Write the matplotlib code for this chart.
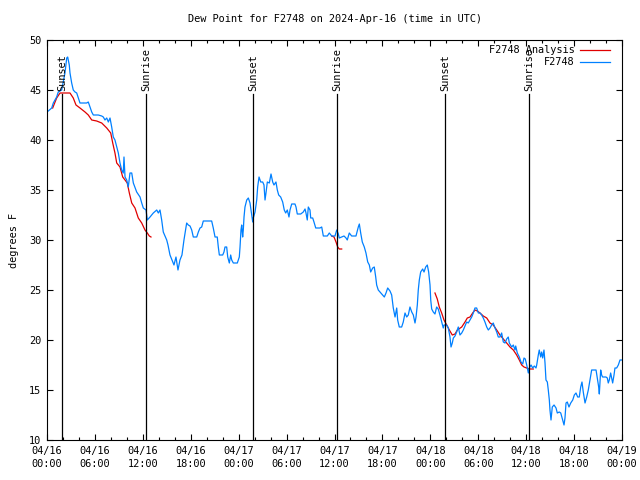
import matplotlib
matplotlib.use("Agg")
import matplotlib.pyplot as plt
from matplotlib.ticker import MultipleLocator

plt.rcParams["font.family"] = ["DejaVu Sans Mono"]

# ---------------- data (hours since 2024-04-16 00:00 UTC, degrees F) ----------
obs_t = [0.16, 0.59, 0.79, 1.21, 1.41, 1.84, 2.25, 2.47, 2.59, 2.79, 2.88, 3.09,
         3.29, 3.51, 3.72, 3.92, 4.13, 4.55, 4.97, 5.17, 5.38, 5.60, 5.80, 6.42,
         6.85, 7.05, 7.26, 7.48, 7.68, 7.89, 8.10, 8.30, 8.51, 8.73, 8.93, 9.14,
         9.35, 9.55, 9.64, 9.77, 9.98, 10.18, 10.39, 10.61, 10.81, 11.23, 11.65,
         11.86, 12.06, 12.40, 12.56, 12.90, 13.31, 13.74, 13.94, 14.15, 14.36,
         14.56, 14.99, 15.15, 15.40, 15.65, 15.90, 16.15, 16.40, 16.65, 16.90,
         17.15, 17.49, 17.69, 17.91, 18.12, 18.32, 18.75, 18.95, 19.16, 19.37,
         19.57, 20.41, 20.62, 20.82, 21.04, 21.32, 21.45, 21.58, 22.00, 22.16,
         22.29, 22.50, 22.63, 22.83, 23.00, 23.13, 23.33, 23.83, 24.08, 24.17,
         24.29, 24.38, 24.50, 24.58, 24.67, 24.79, 25.01, 25.21, 25.42, 25.63,
         25.76, 25.83, 26.05, 26.26, 26.38, 26.55, 26.76, 27.01, 27.17, 27.30,
         27.42, 27.59, 27.84, 28.05, 28.26, 28.42, 28.67, 28.84, 29.01, 29.26,
         29.51, 29.71, 29.89, 30.09, 30.30, 30.43, 30.64, 31.05, 31.18, 31.34,
         31.77, 32.09, 32.31, 32.43, 32.59, 32.72, 32.93, 33.02, 33.27, 33.43,
         33.65, 34.18, 34.40, 34.60, 35.10, 35.35, 35.65, 36.06, 36.28, 36.48,
         36.60, 36.90, 37.19, 37.44, 37.60, 37.85, 38.15, 38.69, 38.98, 39.11,
         39.28, 39.48, 39.73, 39.94, 40.16, 40.36, 40.53, 40.78, 40.98, 41.16,
         41.28, 41.48, 41.70, 42.03, 42.24, 42.45, 42.66, 42.95, 43.16, 43.36,
         43.58, 43.79, 43.91, 44.11, 44.41, 44.61, 44.83, 45.04, 45.24, 45.45,
         45.67, 45.87, 46.08, 46.21, 46.37, 46.49, 46.62, 46.79, 47.04, 47.21,
         47.42, 47.62, 47.79, 47.96, 48.05, 48.17, 48.37, 48.58, 48.79, 48.99,
         49.20, 49.42, 49.62, 49.71, 50.05, 50.25, 50.46, 50.59, 50.75, 50.88,
         51.09, 51.30, 51.50, 51.71, 51.93, 52.13, 52.34, 52.55, 52.75, 52.97,
         53.18, 53.38, 53.59, 53.80, 54.01, 54.22, 54.43, 54.63, 54.84, 55.06,
         55.26, 55.47, 55.68, 55.88, 56.10, 56.31, 56.51, 56.72, 56.93, 57.14,
         57.35, 57.56, 57.76, 57.89, 58.19, 58.39, 58.60, 58.69, 58.89, 59.14,
         59.35, 59.57, 59.73, 59.89, 60.07, 60.27, 60.39, 60.61, 60.82, 61.02,
         61.23, 61.32, 61.52, 61.64, 61.82, 61.94, 62.07, 62.23, 62.36, 62.48,
         62.65, 62.77, 62.90, 62.98, 63.11, 63.27, 63.49, 63.74, 63.90, 64.15,
         64.33, 64.57, 64.74, 64.86, 64.99, 65.15, 65.36, 65.58, 65.83, 66.03,
         66.24, 66.45, 66.65, 66.83, 66.99, 67.15, 67.37, 67.58, 67.78, 67.99,
         68.20, 68.75, 68.91, 69.08, 69.16, 69.33, 69.45, 69.57, 69.99, 70.16,
         70.28, 70.41, 70.58, 70.70, 70.83, 71.00, 71.12, 71.33, 71.54, 71.75,
         71.96]
obs_v = [42.9, 43.2, 43.7, 44.3, 44.8, 45.0, 46.7, 48.2, 48.3, 47.5, 46.7, 45.7,
         45.0, 44.8, 44.7, 44.2, 43.7, 43.7, 43.7, 43.8, 43.3, 42.8, 42.5, 42.5,
         42.4, 42.3, 42.0, 42.2, 41.8, 42.2, 41.3, 40.3, 40.0, 39.3, 38.7, 37.7,
         37.0, 36.7, 38.3, 36.3, 36.0, 35.3, 36.7, 36.7, 35.7, 34.8, 34.3,
         33.7, 33.2, 33.0, 32.0, 32.3, 32.7, 33.0, 32.7, 33.0, 32.0,
         30.8, 30.0, 29.5, 28.5, 28.0, 27.5, 28.3, 27.0, 28.0, 28.5,
         30.0, 31.7, 31.5, 31.4, 31.0, 30.3, 30.3, 30.8, 31.2, 31.3,
         31.9, 31.9, 31.9, 31.2, 30.3, 30.3, 29.3, 28.5, 28.5, 28.8,
         29.3, 29.3, 28.3, 27.7, 28.5, 28.0, 27.7, 27.7, 28.3, 29.3,
         31.0, 31.5, 30.3, 31.0, 32.3, 33.3, 34.0, 34.2, 33.7, 32.5,
         31.8, 32.2, 32.8, 34.0, 35.3, 36.3, 35.8, 35.8, 35.5, 34.0,
         34.7, 35.8, 35.7, 36.6, 35.8, 35.5, 35.8, 35.0, 34.5, 34.3,
         33.8, 33.0, 32.7, 33.0, 32.3, 33.0, 33.6, 33.6, 33.3, 32.6,
         32.6, 32.8, 33.1, 32.7, 32.0, 33.3, 33.0, 32.2, 32.2, 31.8,
         31.2, 31.2, 31.3, 30.4, 30.4, 30.7, 30.4, 30.4, 31.0, 30.6,
         30.2, 30.3, 30.4, 30.2, 30.0, 30.7, 30.4, 30.4, 31.3, 31.6,
         30.7, 29.8, 29.3, 28.7, 27.8, 27.5, 26.8, 27.2, 27.3, 26.3,
         25.5, 25.0, 24.8, 24.5, 24.3, 24.7, 25.2, 24.9, 24.5, 23.2,
         22.3, 23.2, 22.0, 21.3, 21.3, 21.8, 22.7, 22.3, 22.5, 23.3,
         22.8, 22.5, 21.7, 22.3, 23.5, 25.0, 26.0, 26.8, 27.1, 26.8,
         27.3, 27.5, 26.8, 25.5, 24.0, 23.1, 22.8, 22.6, 23.3, 23.1,
         22.5, 21.8, 21.2, 21.5, 21.5, 21.2, 20.3, 19.3, 19.7, 20.2,
         20.4, 20.8, 21.3, 20.5, 20.7, 21.0, 21.4, 21.8, 21.7, 22.0,
         22.3, 22.7, 23.2, 23.2, 22.7, 22.7, 22.5, 22.2, 21.8, 21.3,
         21.0, 21.2, 21.5, 21.7, 21.2, 20.8, 20.3, 20.3, 20.7, 19.8,
         19.7, 20.1, 20.3, 19.7, 19.3, 19.5, 19.0, 19.4, 18.7, 18.3,
         17.8, 17.6, 18.2, 18.1, 17.5, 16.7, 17.2, 17.5, 17.2, 17.4,
         17.2, 17.5, 18.5, 19.0, 18.3, 18.8, 18.2, 19.0, 17.7, 16.0,
         15.8, 15.0, 14.0, 13.0, 12.0, 13.3, 13.5, 13.2, 12.7, 12.8,
         12.7, 12.0, 11.5, 12.2, 13.7, 13.8, 13.3, 13.7, 14.0, 14.5,
         14.7, 14.3, 14.3, 15.3, 15.8, 14.8, 13.7, 14.3, 15.0, 16.0,
         17.0, 17.0, 16.2, 15.3, 14.6, 17.0, 16.5, 16.3, 16.3, 16.2,
         15.7, 16.0, 16.7, 16.2, 15.7, 16.5, 17.2, 17.2, 17.5, 18.0,
         18.0]

# analysis runs (three separate pieces)
ana1_t = [0.71, 1.21, 1.63, 2.04, 2.88, 3.29, 3.63, 4.13, 4.76, 5.17, 5.60, 6.22,
          6.85, 7.48, 7.98, 8.23, 8.51, 8.73, 9.14, 9.48, 9.77, 10.05, 10.31,
          10.61, 11.02, 11.43, 11.86, 12.27, 12.56, 12.81, 13.02]
ana1_v = [43.2, 44.2, 44.7, 44.7, 44.7, 44.2, 43.5, 43.2, 42.8, 42.5, 42.0, 41.9,
          41.7, 41.2, 40.7, 39.7, 38.7, 37.7, 37.3, 36.3, 36.0, 35.7, 34.7,
          33.7, 33.2, 32.2, 31.7, 31.0, 30.7, 30.4, 30.3]
ana2_t = [35.65, 35.94, 36.19, 36.40, 36.60, 36.90]
ana2_v = [30.4, 30.3, 29.8, 29.3, 29.1, 29.1]
ana3_t = [48.58, 48.87, 49.12, 49.42, 49.71, 50.05, 50.38, 50.75, 51.09, 51.38,
          51.93, 52.34, 52.63, 52.97, 53.30, 53.59, 53.88, 54.22, 54.63, 55.06,
          55.47, 55.88, 56.31, 56.72, 57.14, 57.56, 57.97, 58.39, 58.81, 59.14,
          59.44, 59.73, 60.07, 60.39, 60.89]
ana3_v = [24.7, 24.1, 23.3, 22.7, 22.0, 21.5, 21.0, 20.5, 20.6, 21.0,
          21.3, 21.8, 22.2, 22.3, 22.7, 23.0, 22.9, 22.7, 22.4, 22.2,
          21.7, 21.5, 21.0, 20.5, 20.1, 19.7, 19.3, 19.0, 18.5, 18.0,
          17.5, 17.3, 17.2, 17.1, 17.1]

sun_t = [1.88, 12.43, 25.83, 36.35, 49.87, 60.39]
sun_lbl = ["Sunset", "Sunrise", "Sunset", "Sunrise", "Sunset", "Sunrise"]

tick_hours = list(range(0, 73, 6))
tick_labels = [f"04/{16 + h // 24}\n{h % 24:02d}:00" for h in tick_hours]

RED, BLUE = "#e00000", "#0080ff"
FS = 7.4

# ---------------- figure ----------------
fig = plt.figure(figsize=(6.4, 4.8), dpi=100)
ax = fig.add_axes([47 / 640, 40 / 480, 575 / 640, 400 / 480])

for t_, v_ in [(ana1_t, ana1_v), (ana2_t, ana2_v), (ana3_t, ana3_v)]:
    ax.plot(t_, v_, color=RED, lw=0.9)
ax.plot(obs_t, obs_v, color=BLUE, lw=0.9)

for t, lbl in zip(sun_t, sun_lbl):
    ax.plot([t, t], [10, 44.6], color="black", lw=0.9)
    ax.text(t, 44.9, lbl, rotation=90, ha="center", va="bottom", fontsize=FS)

ax.set_xlim(0, 72)
ax.set_ylim(10, 50)
ax.set_xticks(tick_hours)
ax.set_xticklabels(tick_labels, fontsize=FS, linespacing=1.45)
ax.xaxis.set_minor_locator(MultipleLocator(2))
ax.yaxis.set_major_locator(MultipleLocator(5))
ax.tick_params(axis="y", labelsize=FS)
ax.tick_params(which="both", direction="in", top=True, right=True, width=0.8)
ax.tick_params(which="major", length=4.5, pad=4)
ax.tick_params(which="minor", length=2.2)
for s in ax.spines.values():
    s.set_linewidth(0.8)

ax.set_ylabel("degrees F", fontsize=FS, labelpad=7)
# title is centred over the plot box, like gnuplot does
ax.set_title("Dew Point for F2748 on 2024-Apr-16 (time in UTC)",
             fontsize=FS, pad=13)

# gnuplot-style key: right aligned text followed by line sample
key = [("F2748 Analysis", RED, 0.975), ("F2748", BLUE, 0.945)]
for txt, c, yk in key:
    ax.text(0.918, yk, txt, transform=ax.transAxes, ha="right", va="center",
            fontsize=FS)
    ax.plot([0.927, 0.979], [yk, yk], transform=ax.transAxes, color=c, lw=0.9)

fig.savefig("out.png", dpi=100)
